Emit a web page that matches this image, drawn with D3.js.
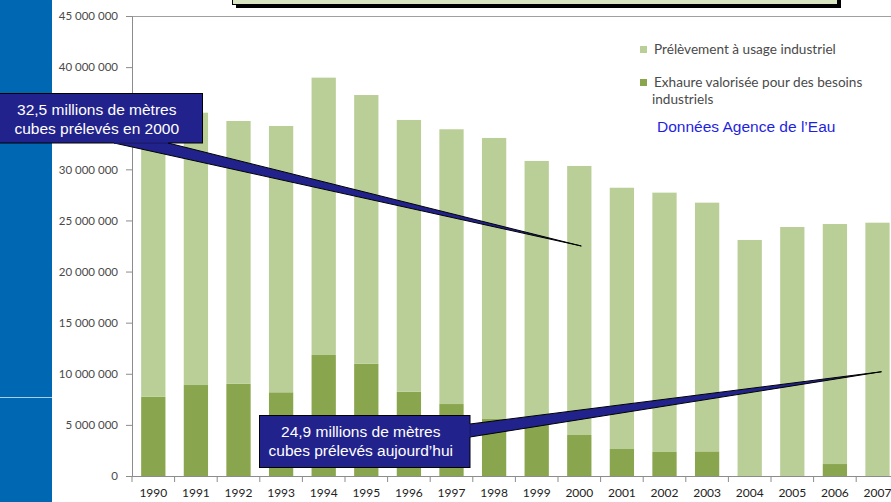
<!DOCTYPE html>
<html>
<head>
<meta charset="utf-8">
<script src="https://cdn.jsdelivr.net/npm/d3@7"></script>
<style>
  html, body { margin: 0; padding: 0; background: #fff; }
  svg { display: block; }
</style>
</head>
<body>
<div id="chart"></div>
<script>
// values (m3 per year)
const years = ["1990", "1991", "1992", "1993", "1994", "1995", "1996", "1997", "1998",
  "1999", "2000", "2001", "2002", "2003", "2004", "2005", "2006", "2007"];
const exhaure = [7.76e6, 8.9e6, 9.03e6, 8.19e6, 11.84e6, 10.99e6, 8.25e6, 7.04e6, 5.58e6,
  5.1e6, 4.01e6, 2.64e6, 2.35e6, 2.41e6, 0, 0, 1.17e6, 0];
const prelevement = [26.7e6, 26.64e6, 25.7e6, 26.05e6, 27.13e6, 26.28e6, 26.58e6, 26.88e6, 27.49e6,
  25.72e6, 26.32e6, 25.56e6, 25.37e6, 24.33e6, 23.09e6, 24.36e6, 23.48e6, 24.78e6];
const yTicks = [0, 5e6, 10e6, 15e6, 20e6, 25e6, 30e6, 35e6, 40e6, 45e6];
const seriesNames = ["Prélèvement à usage industriel", "Exhaure valorisée pour des besoins industriels"];
const source = "Données Agence de l\u2019Eau";
const callout2000 = ["32,5 millions de mètres", "cubes prélevés en 2000"];
const calloutNow = ["24,9 millions de mètres", "cubes prélevés aujourd\u2019hui"];

const W = 891, H = 502;
const light = "#bacf97", dark = "#89a54e";
const navy = "#22228c";

const svg = d3.select("#chart").append("svg")
  .attr("width", W).attr("height", H);

// left blue strip of the slide
svg.append("rect").attr("x", 0).attr("y", 0).attr("width", 52).attr("height", H).attr("fill", "#0067b3");
svg.append("line").attr("x1", 0).attr("x2", 52).attr("y1", 397.5).attr("y2", 397.5)
  .attr("stroke", "#a9cdea").attr("stroke-width", 1.2);

// title box cut off at the top
svg.append("rect").attr("x", 236).attr("y", -10).attr("width", 605).attr("height", 18).attr("fill", "#000");
svg.append("rect").attr("x", 232.5).attr("y", -10).attr("width", 605).attr("height", 14.5)
  .attr("fill", "#d9e5c0").attr("stroke", "#000").attr("stroke-width", 1);

const plotLeft = 132, plotTop = 16, plotBottom = 476;
const x = d3.scaleBand().domain(years).range([plotLeft, plotLeft + 18 * 42.6])
  .paddingInner(0.43).paddingOuter(0.215);
const y = d3.scaleLinear().domain([0, 45e6]).range([plotBottom, plotTop]);

const rows = years.map((yr, i) => ({year: yr, exhaure: exhaure[i], prelevement: prelevement[i]}));
const stack = d3.stack().keys(["exhaure", "prelevement"])(rows);
const colors = {exhaure: dark, prelevement: light};

// plot area top border
svg.append("line").attr("x1", plotLeft).attr("x2", W).attr("y1", plotTop + 0.5).attr("y2", plotTop + 0.5)
  .attr("stroke", "#a0a0a0");

svg.append("g").selectAll("g").data(stack).join("g")
  .attr("fill", d => colors[d.key])
  .selectAll("rect").data(d => d).join("rect")
  .attr("x", d => x(d.data.year))
  .attr("width", x.bandwidth())
  .attr("y", d => y(d[1]))
  .attr("height", d => y(d[0]) - y(d[1]));

// y axis
const fr = d3.formatLocale({decimal: ",", thousands: " ", grouping: [3], currency: ["", "€"]});
const yAxis = svg.append("g").attr("transform", `translate(${plotLeft},0)`)
  .call(d3.axisLeft(y).tickValues(yTicks).tickFormat(fr.format(",")).tickSize(6).tickPadding(8));
yAxis.select(".domain").attr("stroke", "#8c8c8c");
yAxis.selectAll(".tick line").attr("stroke", "#8c8c8c");
yAxis.selectAll("text").attr("fill", "#4a4a4a")
  .style("font-family", "Lato, 'Open Sans', sans-serif").style("font-size", "11.5px");

// x axis: labels centred, ticks between categories
const xAxis = svg.append("g").attr("transform", `translate(0,${plotBottom})`)
  .call(d3.axisBottom(x).tickSize(0).tickPadding(12));
xAxis.select(".domain").attr("stroke", "#8c8c8c").attr("d", `M${plotLeft},0.5H${W}`);
xAxis.selectAll("text").attr("fill", "#222")
  .style("font-family", "Lato, 'Open Sans', sans-serif").style("font-size", "12px");
const gapHalf = (x.step() - x.bandwidth()) / 2;
xAxis.selectAll(".sep").data(years).join("line").attr("class", "sep")
  .attr("x1", d => x(d) - gapHalf).attr("x2", d => x(d) - gapHalf)
  .attr("y1", 0).attr("y2", 6).attr("stroke", "#8c8c8c");

// legend
const legend = svg.append("g").style("font-family", "Lato, 'Open Sans', sans-serif")
  .style("font-size", "13.6px").attr("fill", "#4a4a4a");
legend.append("rect").attr("x", 640).attr("y", 46).attr("width", 7).attr("height", 7).attr("fill", light);
legend.append("text").attr("x", 654).attr("y", 54).text(seriesNames[0]);
legend.append("rect").attr("x", 640).attr("y", 79).attr("width", 7).attr("height", 7).attr("fill", dark);
legend.append("text").attr("x", 654).attr("y", 87).text("Exhaure valorisée pour des besoins");
legend.append("text").attr("x", 652).attr("y", 104).text("industriels");

svg.append("text").attr("x", 657).attr("y", 132).text(source)
  .attr("fill", "#1f1fe0").style("font-family", "'Liberation Sans', Arial, sans-serif").style("font-size", "15.5px");

// callouts
function callout(box, base, tip, lines) {
  const g = svg.append("g");
  g.append("path")
    .attr("d", `M${base[0][0]},${base[0][1]}L${tip[0]},${tip[1]}L${base[1][0]},${base[1][1]}Z`)
    .attr("fill", navy).attr("stroke", "#000").attr("stroke-width", 1).attr("stroke-linejoin", "miter");
  g.append("rect").attr("x", box.x).attr("y", box.y).attr("width", box.w).attr("height", box.h)
    .attr("fill", navy).attr("stroke", "#000").attr("stroke-width", 1);
  // cover the wedge join on the box border
  g.append("path")
    .attr("d", `M${base[0][0]},${base[0][1]}L${base[1][0]},${base[1][1]}`)
    .attr("stroke", navy).attr("stroke-width", 1.5);
  g.selectAll("text").data(lines).join("text")
    .attr("x", box.x + box.w / 2 - 4)
    .attr("y", (d, i) => box.y + 21 + i * 19)
    .attr("text-anchor", "middle").attr("fill", "#fff")
    .style("font-family", "'Liberation Sans', Arial, sans-serif").style("font-size", "15.5px")
    .text(d => d);
}

callout({x: -1, y: 93.5, w: 203.5, h: 49.5},
  [[114, 143], [168, 143]],
  [x("2000") + x.bandwidth() / 2 + 2, y(22.5e6)],
  callout2000);

callout({x: 259.5, y: 415.5, w: 210.5, h: 52},
  [[470, 424], [470, 437]],
  [x("2007") + x.bandwidth() / 2 + 4, y(10.2e6)],
  calloutNow);
</script>
</body>
</html>
